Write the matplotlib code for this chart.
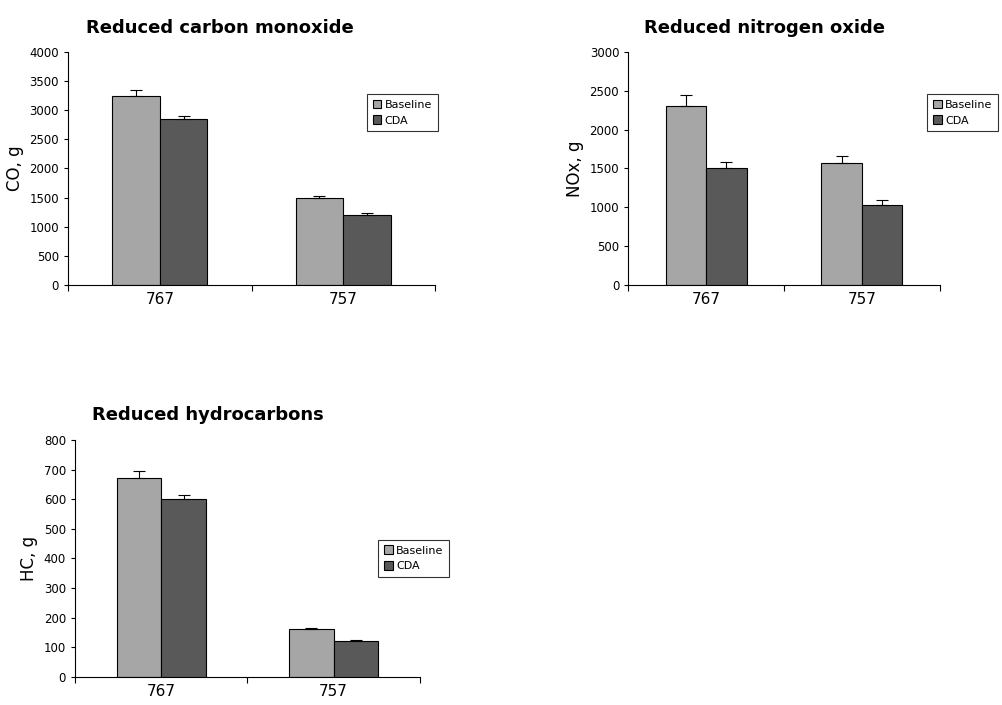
import matplotlib
matplotlib.use('Agg')
import matplotlib.pyplot as plt
import numpy as np

aircraft = ['767', '757']
series = ['Baseline', 'CDA']

co_vals = [[3250, 1500], [2850, 1200]]
co_err = [[100, 30], [50, 30]]
nox_vals = [[2300, 1570], [1510, 1030]]
nox_err = [[150, 90], [70, 70]]
hc_vals = [[670, 160], [600, 120]]
hc_err = [[25, 5], [15, 5]]

colors = ['#a6a6a6', '#595959']
plt.rcParams['font.family'] = 'DejaVu Sans'

fig = plt.figure(figsize=(10.02, 7.05), dpi=100)

panels = [
    ([0.068, 0.596, 0.366, 0.330], co_vals, co_err, 'CO, g', 'Reduced carbon monoxide', 4000, 500, (0.815, 0.74)),
    ([0.627, 0.596, 0.311, 0.330], nox_vals, nox_err, 'NOx, g', 'Reduced nitrogen oxide', 3000, 500, (0.96, 0.74)),
    ([0.075, 0.040, 0.344, 0.336], hc_vals, hc_err, 'HC, g', 'Reduced hydrocarbons', 800, 100, (0.88, 0.50)),
]

x = np.array([0.5, 1.5])
w = 0.26
for rect, vals, errs, ylab, title, ymax, step, legpos in panels:
    ax = fig.add_axes(rect)
    for i, s in enumerate(series):
        ax.bar(x + (i - 0.5) * w, vals[i], w, color=colors[i], edgecolor='black',
               linewidth=0.8, label=s,
               yerr=[np.zeros(2), errs[i]], error_kw=dict(ecolor='black', elinewidth=0.8, capsize=4, capthick=0.8))
    ax.set_xlim(0, 2)
    ax.set_ylim(0, ymax)
    ax.set_yticks(np.arange(0, ymax + 1, step))
    ax.set_xticks([0, 1, 2])
    ax.set_xticklabels([])
    ax.tick_params(axis='x', length=4)
    for xi, lab in zip(x, aircraft):
        ax.text(xi, -0.03 * ymax, lab, ha='center', va='top', fontsize=11)
    ax.tick_params(axis='y', labelsize=8.5, length=3)
    ax.spines['top'].set_visible(False)
    ax.spines['right'].set_visible(False)
    ax.set_ylabel(ylab, fontsize=12)
    ax.set_title(title, fontsize=13, fontweight='bold', loc='left', x=0.05, pad=14)
    leg = ax.legend(loc='center left', bbox_to_anchor=legpos, fontsize=8, frameon=True,
                    fancybox=False, edgecolor='black', handlelength=0.8, handleheight=0.8,
                    borderpad=0.5, labelspacing=0.5, handletextpad=0.3, borderaxespad=0)
    leg.get_frame().set_linewidth(0.8)

plt.savefig('out.png', dpi=100)
